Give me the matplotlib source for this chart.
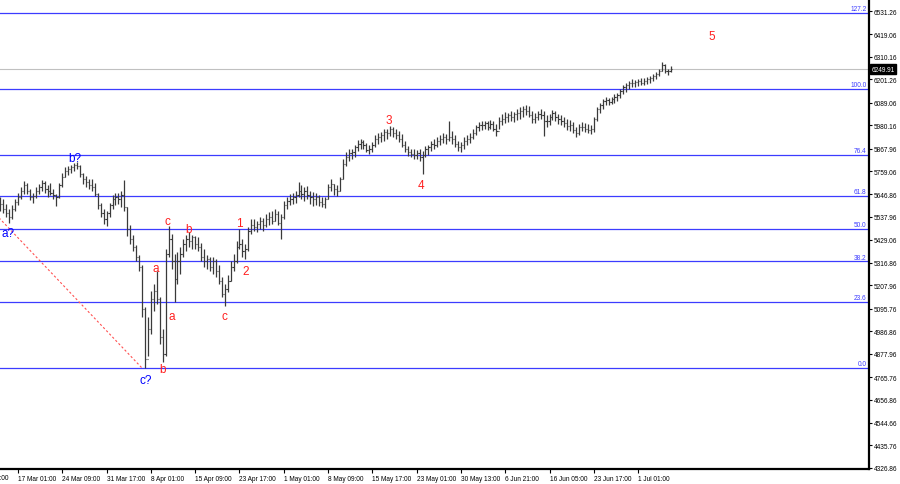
import matplotlib
matplotlib.use("Agg")
import matplotlib.pyplot as plt
import matplotlib.transforms as mtransforms

# Bars (one value per bar, prices)
highs = [
    5634, 5624, 5600, 5576, 5595, 5624, 5653, 5682, 5711, 5701,
    5673, 5653, 5682, 5697, 5716, 5711, 5692, 5701, 5673, 5649,
    5701, 5750, 5779, 5783, 5788, 5798, 5803, 5788, 5750, 5735,
    5721, 5721, 5701, 5653, 5605, 5576, 5567, 5605, 5644, 5653,
    5653, 5663, 5716, 5586, 5499, 5451, 5403, 5354, 5306, 5103,
    5056, 5181, 5214, 5277, 5152, 4997, 5383, 5495, 5456, 5359,
    5369, 5393, 5432, 5451, 5465, 5451, 5446, 5441, 5412, 5383,
    5354, 5345, 5345, 5335, 5306, 5249, 5214, 5258, 5325, 5359,
    5422, 5480, 5432, 5407, 5490, 5528, 5528, 5519, 5538, 5533,
    5552, 5562, 5567, 5576, 5567, 5552, 5615, 5634, 5649, 5653,
    5663, 5706, 5692, 5682, 5687, 5663, 5658, 5653, 5644, 5634,
    5634, 5697, 5721, 5697, 5692, 5730, 5817, 5851, 5866, 5866,
    5885, 5909, 5914, 5909, 5895, 5885, 5900, 5933, 5943, 5948,
    5962, 5962, 5977, 5972, 5962, 5953, 5938, 5904, 5880, 5866,
    5866, 5861, 5866, 5856, 5880, 5885, 5904, 5914, 5924, 5933,
    5943, 5938, 6001, 5953, 5933, 5904, 5900, 5924, 5933, 5943,
    5962, 5981, 5996, 6001, 6001, 6001, 6006, 6001, 5986, 6020,
    6034, 6044, 6039, 6049, 6044, 6059, 6068, 6073, 6078, 6073,
    6049, 6039, 6049, 6059, 6049, 6030, 6034, 6054, 6049, 6034,
    6030, 6020, 6010, 6006, 5996, 5972, 5986, 5996, 5991, 5986,
    5981, 6020, 6068, 6088, 6107, 6117, 6112, 6117, 6131, 6136,
    6155, 6174, 6184, 6194, 6203, 6199, 6203, 6208, 6208, 6213,
    6218, 6228, 6237, 6252, 6286, 6276, 6252, 6266,
]
lows = [
    5567, 5557, 5538, 5509, 5528, 5567, 5595, 5624, 5649, 5649,
    5620, 5605, 5629, 5649, 5663, 5653, 5634, 5644, 5624, 5591,
    5629, 5682, 5730, 5740, 5750, 5759, 5769, 5730, 5697, 5682,
    5673, 5663, 5639, 5576, 5538, 5504, 5495, 5538, 5576, 5595,
    5600, 5586, 5567, 5446, 5407, 5374, 5325, 5277, 5056, 4809,
    4868, 4973, 5084, 5118, 4925, 4838, 4868, 5345, 5287, 5128,
    5214, 5263, 5345, 5374, 5393, 5383, 5383, 5374, 5325, 5297,
    5287, 5277, 5263, 5249, 5214, 5152, 5108, 5176, 5229, 5277,
    5316, 5383, 5345, 5335, 5374, 5456, 5470, 5465, 5480, 5470,
    5490, 5499, 5504, 5519, 5499, 5432, 5528, 5576, 5595, 5600,
    5605, 5634, 5624, 5615, 5624, 5600, 5591, 5595, 5591, 5586,
    5581, 5624, 5663, 5644, 5639, 5663, 5721, 5783, 5808, 5817,
    5827, 5856, 5866, 5866, 5851, 5842, 5851, 5875, 5890, 5900,
    5904, 5914, 5928, 5924, 5914, 5900, 5875, 5851, 5832, 5827,
    5817, 5817, 5808, 5745, 5827, 5837, 5856, 5866, 5875, 5885,
    5895, 5890, 5904, 5890, 5875, 5856, 5851, 5866, 5885, 5895,
    5914, 5933, 5953, 5957, 5962, 5957, 5962, 5953, 5928, 5962,
    5981, 5991, 5996, 6001, 5996, 6006, 6010, 6020, 6030, 6020,
    5991, 5991, 6006, 6010, 5928, 5972, 5981, 6006, 6001, 5986,
    5981, 5972, 5957, 5953, 5943, 5924, 5933, 5953, 5948, 5943,
    5938, 5948, 6001, 6039, 6059, 6078, 6078, 6083, 6088, 6097,
    6112, 6131, 6140, 6155, 6165, 6165, 6170, 6174, 6174, 6179,
    6184, 6194, 6203, 6218, 6242, 6232, 6223, 6237,
]
closes = [
    5600, 5576, 5557, 5538, 5576, 5610, 5634, 5663, 5692, 5663,
    5634, 5639, 5663, 5682, 5701, 5673, 5663, 5653, 5644, 5634,
    5692, 5730, 5759, 5769, 5779, 5788, 5783, 5745, 5721, 5706,
    5692, 5682, 5649, 5595, 5557, 5528, 5557, 5595, 5624, 5634,
    5624, 5644, 5586, 5480, 5432, 5393, 5345, 5297, 5094, 4853,
    4997, 5142, 5181, 5142, 4959, 4877, 5359, 5432, 5325, 5239,
    5325, 5359, 5407, 5432, 5422, 5441, 5407, 5393, 5345, 5325,
    5335, 5297, 5325, 5277, 5229, 5166, 5190, 5229, 5297, 5325,
    5393, 5407, 5374, 5383, 5470, 5499, 5490, 5504, 5519, 5499,
    5528, 5538, 5519, 5552, 5509, 5538, 5595, 5615, 5624, 5634,
    5644, 5663, 5649, 5663, 5644, 5634, 5624, 5634, 5610, 5600,
    5624, 5682, 5697, 5673, 5663, 5721, 5793, 5827, 5846, 5851,
    5875, 5890, 5900, 5885, 5861, 5866, 5885, 5914, 5924, 5933,
    5948, 5943, 5962, 5943, 5933, 5914, 5885, 5866, 5851, 5842,
    5837, 5846, 5827, 5837, 5866, 5875, 5890, 5885, 5904, 5914,
    5924, 5914, 5924, 5914, 5890, 5875, 5885, 5904, 5914, 5924,
    5943, 5972, 5981, 5981, 5991, 5972, 5986, 5962, 5953, 6001,
    6010, 6020, 6030, 6020, 6034, 6039, 6049, 6059, 6049, 6030,
    6010, 6020, 6034, 6030, 6001, 6001, 6020, 6039, 6020, 6010,
    6001, 5991, 5977, 5981, 5957, 5943, 5972, 5972, 5962, 5957,
    5962, 6010, 6059, 6078, 6097, 6102, 6092, 6107, 6117, 6126,
    6145, 6165, 6174, 6184, 6184, 6189, 6194, 6184, 6194, 6203,
    6208, 6218, 6228, 6242, 6271, 6242, 6242, 6249.91,
]
first_open = 5610

time_labels = ["17 Mar 01:00", "24 Mar 09:00", "31 Mar 17:00", "8 Apr 01:00",
               "15 Apr 09:00", "23 Apr 17:00", "1 May 01:00", "8 May 09:00",
               "15 May 17:00", "23 May 01:00", "30 May 13:00", "6 Jun 21:00",
               "16 Jun 05:00", "23 Jun 17:00", "1 Jul 01:00"]
time_label_bars = [6, 21, 36, 51, 66, 81, 96, 111, 126, 141, 156, 171, 186, 201, 216]
cut_label = "9 Mar 17:00"
cut_label_bar = -9

price_ticks = [6531.26, 6419.06, 6310.16, 6201.26, 6089.06, 5980.16, 5867.96,
               5759.06, 5646.86, 5537.96, 5429.06, 5316.86, 5207.96, 5095.76,
               4986.86, 4877.96, 4765.76, 4656.86, 4544.66, 4435.76, 4326.86]
last_price = 6249.91

# fibo grid: 0% at the c? low, 100% at the top level
fib_low = 4809
fib_high = 6155
fib_levels = [0.0, 23.6, 38.2, 50.0, 61.8, 76.4, 100.0, 127.2]

# wave marks: text, bar, price
blue_waves = [("a?", 2.6, 5461), ("b?", 25.3, 5822), ("c?", 49.3, 4752)]
red_waves = [("a", 52.6, 5292), ("c", 56.5, 5518), ("b", 63.9, 5480),
             ("a", 58.1, 5060), ("b", 54.8, 4804), ("c", 75.9, 5060),
             ("1", 81.0, 5509), ("2", 83.2, 5277), ("3", 131.5, 6006),
             ("4", 142.5, 5694), ("5", 241.0, 6411)]
trend_bars = [-1, 48]
trend_prices = [5542, 4809]

# narrow font for the scales (first one found is used)
small_font = ["DejaVu Sans Condensed", "Liberation Sans"]
small_size = 4.7
fib_color = "#3c3cff"

fig = plt.figure(figsize=(9, 4.85), dpi=100)
ax = fig.add_axes([0, 15 / 485, 869 / 900, 470 / 485])
ax.set_xlim(-0.1, 294.2)
ax.set_ylim(4322.0, 6589.3)

# fibo levels + their labels at the right
right_edge = mtransforms.blended_transform_factory(ax.transAxes, ax.transData)
for lvl in fib_levels:
    p = fib_low + (fib_high - fib_low) * lvl / 100
    ax.axhline(p, color=fib_color, lw=0.9, zorder=1)
    ax.text(0.997, p + 4, f"{lvl:.1f}", transform=right_edge, ha="right", va="bottom",
            color=fib_color, fontsize=small_size, family=small_font)

ax.axhline(last_price, color="#c0c0c0", lw=0.8, zorder=1)
ax.plot(trend_bars, trend_prices, color="#ff5050", lw=0.8, ls=(0, (2, 2)), zorder=2)

# OHLC bars
xs = list(range(len(closes)))
opens = [first_open] + closes[:-1]
bar_color = "#3a3a3a"
ax.vlines(xs, lows, highs, color=bar_color, lw=0.9, zorder=3)
ax.hlines(opens, [x - 0.4 for x in xs], xs, color=bar_color, lw=0.8, zorder=3)
ax.hlines(closes, xs, [x + 0.4 for x in xs], color=bar_color, lw=0.8, zorder=3)

for txt, b, p in blue_waves:
    ax.text(b, p, txt, color="#0000ff", fontsize=8.5, family="Liberation Sans",
            ha="center", va="center", zorder=4)
for txt, b, p in red_waves:
    ax.text(b, p, txt, color="#ff2020", fontsize=8.5, family="Liberation Sans",
            ha="center", va="center", zorder=4)

# axes frame like the terminal: only bottom and right lines
for side in ["top", "left"]:
    ax.spines[side].set_visible(False)
for side in ["bottom", "right"]:
    ax.spines[side].set_linewidth(1.6)
    ax.spines[side].set_color("black")

ax.yaxis.tick_right()
ax.set_yticks(price_ticks)
ax.set_yticklabels([f"{p:.2f}" for p in price_ticks])
ax.tick_params(axis="y", length=2, width=0.8, pad=1.5, labelsize=small_size)
for lab in ax.get_yticklabels():
    lab.set_family(small_font)

ax.set_xticks(time_label_bars)
ax.set_xticklabels(time_labels)
ax.tick_params(axis="x", length=3, width=0.8, pad=1.0, labelsize=small_size)
for lab in ax.get_xticklabels():
    lab.set_family(small_font)
    lab.set_horizontalalignment("left")

bottom_edge = mtransforms.blended_transform_factory(ax.transData, ax.transAxes)
ax.text(cut_label_bar, -0.0105, cut_label, transform=bottom_edge, ha="left", va="top",
        fontsize=small_size, family=small_font, clip_on=False)

# current price box on the scale
ax.text(1.003, last_price, f"{last_price:.2f}", transform=right_edge, ha="left", va="center",
        color="white", fontsize=small_size, family=small_font, clip_on=False,
        bbox=dict(facecolor="black", edgecolor="black", pad=1.0))

fig.savefig("out.png", dpi=100)
